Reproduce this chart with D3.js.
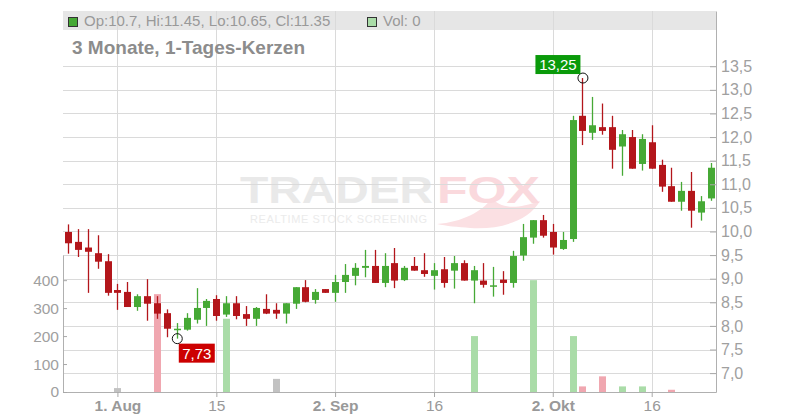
<!DOCTYPE html>
<html>
<head>
<meta charset="utf-8">
<script src="https://cdn.jsdelivr.net/npm/d3@7"></script>
<style>
  body { margin: 0; background: #fff; }
  svg text { font-family: "Liberation Sans", Arial, sans-serif; }
</style>
</head>
<body>
<div id="chart"></div>
<script>
"use strict";

// daily candles, trading day index 0..65
var opens  = [9.99,9.78,9.66,9.54,9.37,8.76,8.72,8.40,8.63,8.48,8.27,7.92,7.92,8.13,8.38,8.57,8.24,8.48,8.25,8.15,
              8.36,8.34,8.26,8.47,8.82,8.55,8.78,8.70,8.93,9.06,9.23,9.27,8.91,9.33,8.97,9.27,9.18,9.06,9.20,9.17,
              9.33,8.96,8.96,8.85,8.98,8.91,9.49,9.87,10.24,9.99,9.63,9.84,12.45,12.09,12.21,12.21,11.80,12.00,11.43,11.89,
              11.41,10.96,10.63,10.86,10.40,10.70];
var highs  = [10.15,10.05,10.05,9.92,9.52,8.89,8.93,8.67,8.99,8.63,8.35,8.06,8.27,8.80,8.57,8.65,8.63,8.63,8.42,8.40,
              8.67,8.48,8.48,8.82,8.97,8.78,8.78,9.08,9.31,9.33,9.61,9.61,9.54,9.65,9.27,9.46,9.54,9.33,9.46,9.48,
              9.39,9.27,9.33,9.25,9.16,9.59,10.16,10.24,10.35,10.16,9.99,12.45,13.25,12.85,12.71,12.45,12.15,12.15,12.06,12.25,
              11.52,11.35,11.05,11.26,10.75,11.45];
var lows   = [9.53,9.46,8.70,9.21,8.64,8.34,8.40,8.32,8.11,8.15,7.76,7.73,7.90,8.05,8.00,8.11,8.19,8.14,8.00,8.00,
              8.25,8.15,8.05,8.36,8.50,8.47,8.70,8.51,8.70,8.86,9.03,8.91,8.82,8.80,8.95,9.17,9.04,8.77,8.81,8.79,
              8.96,8.48,8.81,8.62,8.66,8.81,9.38,9.74,9.87,9.51,9.61,9.78,11.83,11.94,12.05,11.33,11.18,11.33,11.29,11.33,
              10.84,10.63,10.44,10.08,10.23,10.65];
var closes = [9.75,9.61,9.57,9.36,8.70,8.70,8.40,8.63,8.47,8.26,7.94,7.94,8.17,8.38,8.53,8.21,8.48,8.21,8.15,8.38,
              8.26,8.26,8.48,8.82,8.51,8.72,8.70,8.93,9.08,9.23,9.27,8.91,9.27,8.96,9.23,9.17,9.10,9.18,8.91,9.33,
              8.96,9.18,8.87,8.86,8.91,9.48,9.88,10.24,9.91,9.66,9.82,12.36,12.13,12.25,12.13,11.73,12.06,11.33,11.96,11.33,
              10.95,10.63,10.86,10.44,10.64,11.35];
var volumes = [0,0,0,0,0,14,0,0,0,350,0,0,0,0,0,0,262,0,0,0,
               0,47,0,0,0,0,0,0,0,0,0,0,0,0,0,0,0,0,0,0,
               0,200,0,0,0,0,0,400,0,0,0,200,20,0,56,0,20,0,20,0,
               0,8,0,0,0,0];

var tickIdx    = [5, 15, 27, 37, 49, 59];
var tickLabels = ["1. Aug", "15", "2. Sep", "16", "2. Okt", "16"];
var tickBold   = [true, false, true, false, true, false];
var priceTicks = [7.0,7.5,8.0,8.5,9.0,9.5,10.0,10.5,11.0,11.5,12.0,12.5,13.0,13.5];
var volTicks   = [0, 100, 200, 300, 400];

var width = 800, height = 420;
var plotLeft = 63, plotRight = 716, plotTop = 11, plotBottom = 392;
var UP = "#46a935", DOWN = "#b3161b";

var svg = d3.select("#chart").append("svg")
    .attr("width", width)
    .attr("height", height);

var n = closes.length;
var x = d3.scaleLinear().domain([-0.5, n - 0.5]).range([plotLeft, plotRight]);
var y = d3.scaleLinear().domain([6.6, 14.67]).range([plotBottom, plotTop]);
var yVol = d3.scaleLinear().domain([0, 490]).range([plotBottom, 255]);

var fmt = function(v) { return d3.format(".1f")(v).replace(".", ","); };

// legend bar
svg.append("rect")
    .attr("x", plotLeft).attr("y", plotTop)
    .attr("width", plotRight - plotLeft).attr("height", 19)
    .attr("fill", "#e6e6e6");

// watermark
var wm = svg.append("g");
wm.append("text")
    .attr("x", 240).attr("y", 203)
    .attr("textLength", 193).attr("lengthAdjust", "spacingAndGlyphs")
    .style("font-size", "37px").style("font-weight", "bold")
    .attr("fill", "#e9e9e9")
    .text("TRADER");
wm.append("path")
    .attr("d", "M437,224 C462,222 482,212 492,198 C500,208 515,210 540,201 C528,222 498,230 470,228 C458,227 446,226 437,224 Z")
    .attr("fill", "#fbe0e3");
wm.append("text")
    .attr("x", 437).attr("y", 203)
    .attr("textLength", 103).attr("lengthAdjust", "spacingAndGlyphs")
    .style("font-size", "37px").style("font-weight", "bold")
    .attr("fill", "#fad9dd")
    .text("FOX");
wm.append("text")
    .attr("x", 250).attr("y", 223)
    .attr("textLength", 177).attr("lengthAdjust", "spacing")
    .style("font-size", "11px")
    .attr("fill", "#ebebeb")
    .text("REALTIME STOCK SCREENING");

// grid
svg.append("g").selectAll("line")
  .data(priceTicks)
  .enter().append("line")
    .attr("x1", plotLeft).attr("x2", plotRight)
    .attr("y1", function(d) { return Math.round(y(d)) + 0.5; })
    .attr("y2", function(d) { return Math.round(y(d)) + 0.5; })
    .attr("stroke", "#dadada");

svg.append("g").selectAll("line")
  .data(tickIdx)
  .enter().append("line")
    .attr("x1", function(d) { return Math.round(x(d)) + 0.5; })
    .attr("x2", function(d) { return Math.round(x(d)) + 0.5; })
    .attr("y1", plotTop).attr("y2", plotBottom)
    .attr("stroke", "#dadada");

// legend content
svg.append("rect")
    .attr("x", 68.5).attr("y", 17.5).attr("width", 9).attr("height", 9)
    .attr("fill", UP).attr("stroke", "#333");
svg.append("text")
    .attr("x", 84).attr("y", 26)
    .style("font-size", "15px").attr("fill", "#999")
    .text("Op:10.7, Hi:11.45, Lo:10.65, Cl:11.35");
svg.append("rect")
    .attr("x", 367.5).attr("y", 17.5).attr("width", 9).attr("height", 9)
    .attr("fill", "#aadca8").attr("stroke", "#333");
svg.append("text")
    .attr("x", 383).attr("y", 26)
    .style("font-size", "15px").attr("fill", "#999")
    .text("Vol: " + volumes[n - 1]);

svg.append("text")
    .attr("x", 72).attr("y", 54)
    .style("font-size", "19px").style("font-weight", "bold")
    .attr("fill", "#8c8c8c")
    .text("3 Monate, 1-Tages-Kerzen");

// volume bars
svg.append("g").selectAll("rect")
  .data(volumes)
  .enter().append("rect")
    .attr("x", function(d, i) { return Math.round(x(i)) - 3; })
    .attr("width", 7)
    .attr("y", function(d) { return yVol(d); })
    .attr("height", function(d) { return plotBottom - yVol(d); })
    .attr("fill", function(d, i) {
      if (i === 0 || closes[i] === closes[i - 1]) return "#c2c2c2";
      return closes[i] > closes[i - 1] ? "#aadca8" : "#f0a7b0";
    });

// candles
var candles = svg.append("g").selectAll("g")
  .data(d3.range(n))
  .enter().append("g");

candles.append("line")
    .attr("x1", function(i) { return Math.round(x(i)) + 0.5; })
    .attr("x2", function(i) { return Math.round(x(i)) + 0.5; })
    .attr("y1", function(i) { return y(highs[i]); })
    .attr("y2", function(i) { return y(lows[i]); })
    .attr("stroke", function(i) { return closes[i] >= opens[i] ? UP : DOWN; })
    .attr("stroke-width", 1.3);

candles.append("rect")
    .attr("x", function(i) { return Math.round(x(i)) - 3; })
    .attr("width", 7)
    .attr("y", function(i) { return y(Math.max(opens[i], closes[i])); })
    .attr("height", function(i) { return Math.max(1.5, Math.abs(y(opens[i]) - y(closes[i]))); })
    .attr("fill", function(i) { return closes[i] >= opens[i] ? UP : DOWN; });

// high / low markers
var hiIdx = d3.maxIndex(highs), loIdx = d3.minIndex(lows);
svg.append("circle")
    .attr("cx", x(hiIdx) + 0.5).attr("cy", y(highs[hiIdx]))
    .attr("r", 5).attr("fill", "none").attr("stroke", "#111");
svg.append("circle")
    .attr("cx", x(loIdx) + 0.5).attr("cy", y(lows[loIdx]))
    .attr("r", 5).attr("fill", "none").attr("stroke", "#111");

svg.append("rect")
    .attr("x", x(hiIdx) - 47).attr("y", y(highs[hiIdx]) - 23)
    .attr("width", 45).attr("height", 19).attr("fill", "#0a9a0a");
svg.append("text")
    .attr("x", x(hiIdx) - 24.5).attr("y", y(highs[hiIdx]) - 8)
    .attr("text-anchor", "middle")
    .style("font-size", "15px").attr("fill", "#fff")
    .text(highs[hiIdx].toFixed(2).replace(".", ","));

svg.append("rect")
    .attr("x", x(loIdx) + 2).attr("y", y(lows[loIdx]) + 5)
    .attr("width", 36).attr("height", 19).attr("fill", "#cc0000");
svg.append("text")
    .attr("x", x(loIdx) + 20).attr("y", y(lows[loIdx]) + 20)
    .attr("text-anchor", "middle")
    .style("font-size", "15px").attr("fill", "#fff")
    .text(lows[loIdx].toFixed(2).replace(".", ","));

// axes
var xAxis = svg.append("g")
    .attr("transform", "translate(0," + plotBottom + ")")
    .call(d3.axisBottom(x)
      .tickValues(tickIdx)
      .tickFormat(function(d, i) { return tickLabels[i]; })
      .tickSizeInner(5).tickSizeOuter(0).tickPadding(3));
xAxis.selectAll("text")
    .style("font-weight", function(d, i) { return tickBold[i] ? "bold" : "normal"; });

var yAxis = svg.append("g")
    .attr("transform", "translate(" + plotRight + ",0)")
    .call(d3.axisRight(y)
      .tickValues(priceTicks)
      .tickFormat(fmt)
      .tickSizeInner(-6).tickSizeOuter(0).tickPadding(5));

var vAxis = svg.append("g")
    .attr("transform", "translate(" + plotLeft + ",0)")
    .call(d3.axisLeft(yVol)
      .tickValues(volTicks)
      .tickSizeInner(-4).tickSizeOuter(0).tickPadding(4));

[xAxis, yAxis, vAxis].forEach(function(a) {
  a.select(".domain").attr("stroke", "#b0b0b0");
  a.selectAll(".tick line").attr("stroke", "#a8a8a8");
  a.selectAll("text")
    .style("font-size", "15.5px")
    .attr("fill", "#a0a0a0");
});
yAxis.selectAll("text").style("font-size", "16px");
xAxis.selectAll("text").attr("fill", "#999");
</script>
</body>
</html>
